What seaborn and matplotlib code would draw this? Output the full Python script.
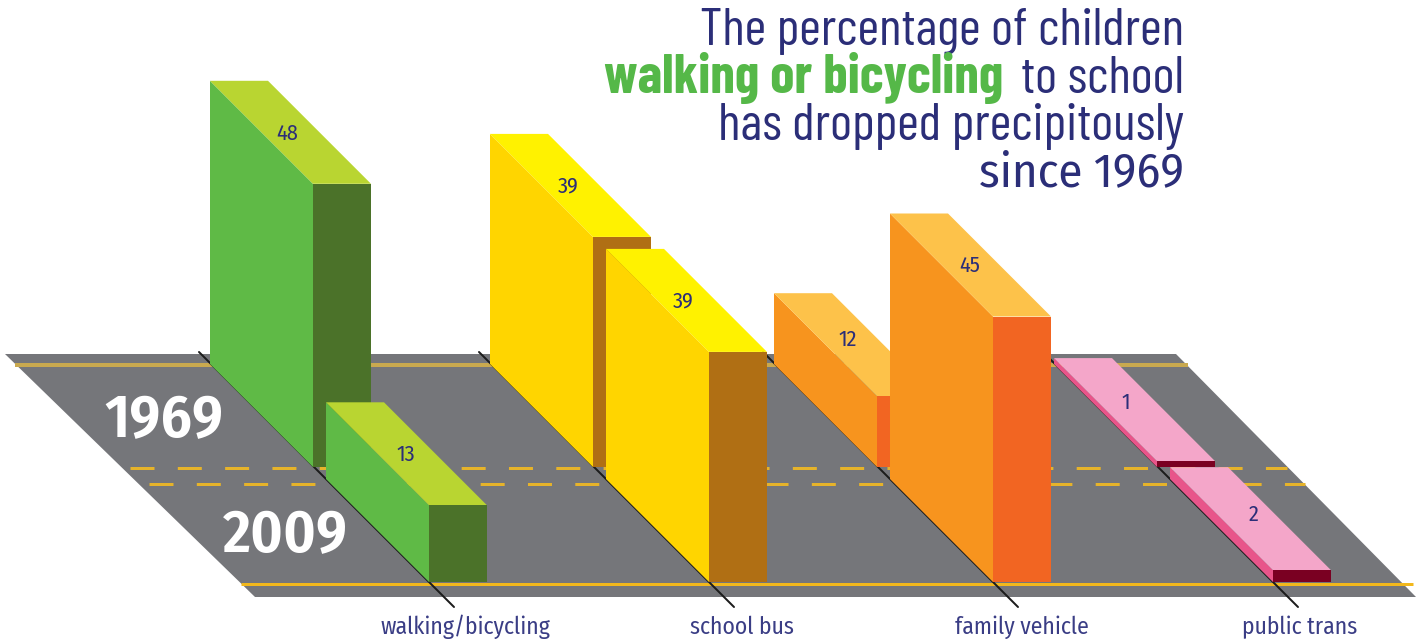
"""Share of children getting to school by mode, 1969 vs 2009, drawn as blocks on a road."""

import matplotlib

matplotlib.use("Agg")
import matplotlib.pyplot as plt
import pandas as pd
import seaborn as sns

categories = ["walking/bicycling", "school bus", "family vehicle", "public trans"]
values_1969 = [48, 39, 12, 1]
values_2009 = [13, 39, 45, 2]
years = ["1969", "2009"]

# left side, top, front of each block
face_colors = {
    "walking/bicycling": ("#5fba46", "#b9d531", "#4b7229"),
    "school bus": ("#ffd500", "#fff200", "#b06f14"),
    "family vehicle": ("#f7941e", "#fdc24a", "#f26522"),
    "public trans": ("#e8558a", "#f4a6c9", "#7a0022"),
}

NAVY = "#2b2e78"
ROAD = "#75767a"
GREEN = "#55b848"

# layout in picture pixels
W, H = 1416, 639
PX = 72 / 100
BASE_X = [429, 709, 993, 1273]
LABEL_X = [465, 742, 1022, 1300]
BASE_Y = 582
ROW_SHIFT = 116  # 1969 row sits this far up the road
DEPTH = 103
BAR_W = 58
UNIT = 5.9  # pixels per percentage point

# the number labels were nudged by hand in the original
NUDGE_1969 = [(-3, 1), (-2, 1), (-7, -5), (-9, -7)]
NUDGE_2009 = [(-1, 1), (-3, 1), (-1, 1), (3, -4)]

sns.set_theme(style="white")
NARROW = ["Fira Sans Condensed", "Roboto Condensed", "Liberation Sans", "DejaVu Sans"]
TITLE_FONT = ["Barlow Condensed", "Fira Sans Condensed", "Roboto Condensed", "Liberation Sans"]
plt.rcParams["font.family"] = NARROW

fig, ax = plt.subplots(figsize=(W / 100, H / 100), dpi=100)
fig.subplots_adjust(0, 0, 1, 1)

# road
ax.fill([5, 1176, 1416, 255], [354, 354, 597, 597], color=ROAD, lw=0, zorder=1)
ax.plot([15, 1188], [365, 365], color="#c9a94f", lw=4 * PX, solid_capstyle="butt", zorder=2)
ax.plot([241, 1413], [583.5, 583.5], color="#f2b81c", lw=3 * PX, solid_capstyle="butt", zorder=2)
for x0, x1, y in [(130, 1287, 468), (149, 1305, 484)]:
    ax.plot([x0, x1], [y, y], color="#e6b32a", lw=3 * PX, dashes=(8, 7.77),
            dash_capstyle="butt", zorder=2)

# category ticks running across the road
for base, name, lx in zip(BASE_X, categories, LABEL_X):
    ax.plot([base - 230, base + 25], [352, 607], color="#1c1c1c", lw=2 * PX, zorder=3)
    ax.text(lx, 627, name, color="#3a3d85", fontsize=17, ha="center", va="center", zorder=3)


def draw_block(x, y, value, colors, nudge, z):
    """One block: x, y is the front-left foot of the block in pixels."""
    top = y - value * UNIT
    side, roof, front = colors
    ax.fill([x, x - DEPTH, x - DEPTH, x], [y, y - DEPTH, top - DEPTH, top],
            color=side, lw=0, zorder=z)
    ax.fill([x, x + BAR_W, x + BAR_W - DEPTH, x - DEPTH], [top, top, top - DEPTH, top - DEPTH],
            color=roof, lw=0, zorder=z)
    row = pd.DataFrame({"x": [x + BAR_W / 2], "height": [-value * UNIT]})
    sns.barplot(data=row, x="x", y="height", native_scale=True, width=BAR_W, color=front,
                saturation=1, linewidth=0, bottom=y, zorder=z, ax=ax)
    ax.text(x + BAR_W / 2 - DEPTH / 2 + nudge[0], top - DEPTH / 2 + nudge[1], str(value),
            color=NAVY, fontsize=16, ha="center", va="center", zorder=z + 0.5)


for i, name in enumerate(categories):
    colors = face_colors[name]
    draw_block(BASE_X[i] - ROW_SHIFT, BASE_Y - ROW_SHIFT + 1, values_1969[i], colors,
               NUDGE_1969[i], 4 + 2 * i)
    draw_block(BASE_X[i], BASE_Y, values_2009[i], colors, NUDGE_2009[i], 5 + 2 * i)

# year labels on the road
ax.text(164, 437, years[0], color="white", fontsize=44, fontweight="semibold",
        ha="center", va="baseline", zorder=3)
ax.text(285, 552, years[1], color="white", fontsize=44, fontweight="semibold",
        ha="center", va="baseline", zorder=3)

# headline
TITLE_KW = dict(ha="right", va="baseline", zorder=20)
ax.text(1184, 45, "The percentage of children", color=NAVY, fontsize=38, family=TITLE_FONT, **TITLE_KW)
ax.text(1184, 93, "to school", color=NAVY, fontsize=38, family=TITLE_FONT, **TITLE_KW)
ax.text(1003, 93, "walking or bicycling", color=GREEN, fontsize=39.5, fontweight="bold",
        family=TITLE_FONT, **TITLE_KW)
ax.text(1184, 140, "has dropped precipitously", color=NAVY, fontsize=38, family=TITLE_FONT, **TITLE_KW)
ax.text(1184, 186, "since 1969", color=NAVY, fontsize=35, **TITLE_KW)

ax.set_xlim(0, W)
ax.set_ylim(H, 0)
ax.set_axis_off()

fig.savefig("out.png", dpi=100)
plt.close(fig)
